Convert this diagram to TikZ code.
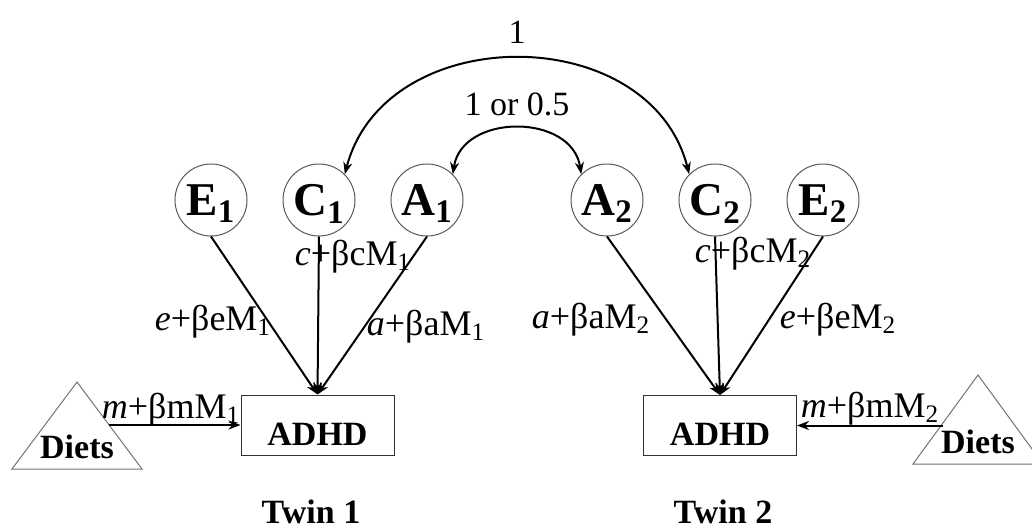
\documentclass[tikz,border=0pt]{standalone}
\usepackage{fontspec}
\setmainfont{Liberation Serif}
\usetikzlibrary{arrows.meta}

\begin{document}
\begin{tikzpicture}[x=0.5pt, y=-0.5pt, >={Stealth[length=6pt,width=4.5pt]},
  latent/.style={circle, draw=black!65, line width=0.5pt, minimum size=36pt,
    inner sep=0pt, text depth=0pt, font=\fontsize{23.5}{23.5}\selectfont\bfseries},
  observed/.style={draw=black!80, line width=0.5pt, minimum width=76.5pt,
    minimum height=30pt, inner sep=0pt, text height=20pt, text depth=0pt,
    font=\fontsize{17}{17}\selectfont\bfseries},
  effect/.style={->, line width=1pt},
  coef/.style={anchor=base, inner sep=0pt, font=\fontsize{18}{18}\selectfont},
  boldtext/.style={anchor=base, inner sep=0pt, font=\fontsize{17}{17}\selectfont\bfseries}]
  \useasboundingbox (0,0) rectangle (1032,530);

  % Latent factors of twin 1 and twin 2
  \node[latent] (E1) at (211,200) {E\textsubscript{1}};
  \node[latent] (C1) at (319,200) {C\textsubscript{1}};
  \node[latent] (A1) at (427,200) {A\textsubscript{1}};
  \node[latent] (A2) at (607,200) {A\textsubscript{2}};
  \node[latent] (C2) at (715,200) {C\textsubscript{2}};
  \node[latent] (E2) at (823,200) {E\textsubscript{2}};

  % Phenotypes
  \node[observed] (adhd1) at (317.5,425) {ADHD};
  \node[observed] (adhd2) at (720,425.5) {ADHD};

  % Correlations between the twins
  \draw[<->, line width=1pt] (C1.45) .. controls (385,20) and (650,20) .. (C2.135);
  \draw[<->, line width=1pt] (A1.45) .. controls (462,113) and (572,113) .. (A2.135);
  \node[coef, font=\fontsize{17}{17}\selectfont] (rc) at (517,43) {1};
  \node[coef, font=\fontsize{17}{17}\selectfont] (ra) at (517,115) {1 or 0.5};

  % Paths to ADHD
  \draw[effect] (E1.south) -- (adhd1.north);
  \draw[effect] (C1.south) -- (adhd1.north);
  \draw[effect] (A1.south) -- (adhd1.north);
  \draw[effect] (A2.south) -- (adhd2.north);
  \draw[effect] (C2.south) -- (adhd2.north);
  \draw[effect] (E2.south) -- (adhd2.north);

  \node[coef] (le1) at (213,330) {\textit{e}+βeM\textsubscript{1}};
  \node[coef] (lc1) at (353,265) {\textit{c}+βcM\textsubscript{1}};
  \node[coef] (la1) at (426,335) {\textit{a}+βaM\textsubscript{1}};
  \node[coef] (la2) at (591,328) {\textit{a}+βaM\textsubscript{2}};
  \node[coef] (lc2) at (753,262) {\textit{c}+βcM\textsubscript{2}};
  \node[coef] (le2) at (838,328) {\textit{e}+βeM\textsubscript{2}};

  % Diets
  \draw[black!55, line width=0.5pt] (12,469) -- (77,382) -- (142,469) -- cycle;
  \draw[black!55, line width=0.5pt] (913,464) -- (978,375) -- (1043,464) -- cycle;
  \node[boldtext] (diets1) at (77,458) {Diets};
  \node[boldtext] (diets2) at (978,453) {Diets};
  \coordinate (d1out) at (109,425);
  \coordinate (d2out) at (943,425.5);
  \draw[effect] (d1out) -- (adhd1.west);
  \draw[effect] (d2out) -- (adhd2.east);
  \node[coef] (lm1) at (171,418) {\textit{m}+βmM\textsubscript{1}};
  \node[coef] (lm2) at (870,417) {\textit{m}+βmM\textsubscript{2}};

  % Twins
  \node[boldtext] (twin1) at (311,523) {Twin 1};
  \node[boldtext] (twin2) at (723,523) {Twin 2};
\end{tikzpicture}
\end{document}
